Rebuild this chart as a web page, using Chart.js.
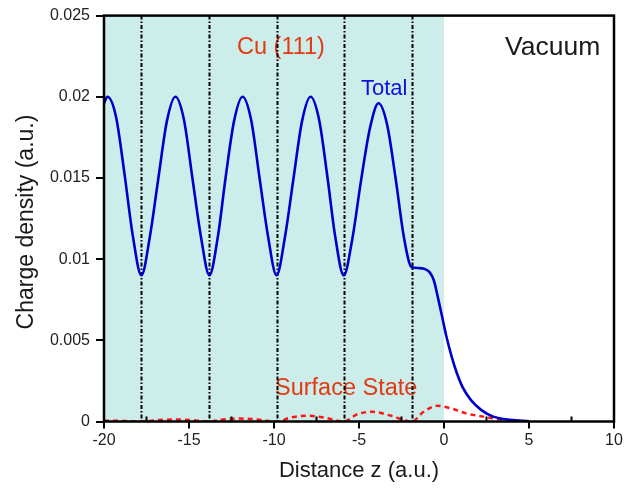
<!DOCTYPE html>
<html>
<head>
<meta charset="utf-8">
<script src="https://cdn.jsdelivr.net/npm/chart.js@4.4.1/dist/chart.umd.min.js"></script>
<style>
  html, body { margin: 0; padding: 0; background: #fff; }
  #grafico { display: block; }
</style>
</head>
<body>
<canvas id="grafico" width="639" height="488"></canvas>
<script>
// Dados (densidade de carga do Cu(111))
const totalZ = [-20, -19.8, -19.3, -18.8, -18.3, -17.8, -17.3, -16.8, -16.3, -15.8, -15.3, -14.8, -14.3, -13.8,
  -13.3, -12.85, -12.35, -11.85, -11.35, -10.85, -10.35, -9.85, -9.35, -8.85, -8.35, -7.85, -7.35, -6.85, -6.4,
  -5.9, -5.4, -4.9, -4.35, -3.85, -3.35, -2.85, -2.35, -1.9, -1.5, -1.15, -0.85, -0.6, -0.35, -0.1, 0.15, 0.45,
  0.75, 1.1, 1.6, 2.2, 2.9, 3.9, 5.0];
const totalRho = [0.0196, 0.0200, 0.0188, 0.0153, 0.0114, 0.0090, 0.0114, 0.0150, 0.0185, 0.0200, 0.0186, 0.0150, 0.0114, 0.0090,
  0.0114, 0.0150, 0.0185, 0.0200, 0.0186, 0.0150, 0.0114, 0.0090, 0.0114, 0.0150, 0.0185, 0.0200, 0.0186, 0.0150, 0.0114,
  0.0090, 0.0112, 0.0147, 0.0181, 0.0196, 0.0183, 0.0150, 0.0113, 0.0095, 0.00945, 0.0094, 0.0092, 0.0087, 0.0076, 0.0064, 0.0052, 0.0040,
  0.0030, 0.0021, 0.0013, 0.0007, 0.0003, 0.0001, 0.00002];

const surfZ = [-20, -19.8, -18.8, -17.8, -16.8, -16.0, -15.0, -13.8, -12.9, -12.0, -11.0, -9.85, -9.0, -8.1, -7.1,
  -5.9, -5.1, -4.25, -3.1, -1.9, -1.2, -0.4, 0.5, 1.3, 2.3, 3.3, 4.3, 4.9];
const surfRho = [0.00005, 0.00005, 0.00003, 0, 0.00009, 0.00012, 0.0001, 0, 0.00014, 0.00018, 0.00013, 0, 0.00025, 0.00036, 0.00025,
  0, 0.00045, 0.0006, 0.00035, 0, 0.0006, 0.00097, 0.00078, 0.0005, 0.0003, 0.00013, 0.00004, 0];

// planos atômicos (linhas tracejadas) e região do cristal
const planosZ = [-17.8, -13.8, -9.85, -5.9, -1.9];
const cristalZ = [-20, 0];

const xTicks = [-20, -15, -10, -5, 0, 5, 10];
const xMinor = [-17.5, -12.5, -7.5, -2.5, 2.5, 7.5];
const yTicks = [0, 0.005, 0.01, 0.015, 0.02, 0.025];
const yTickLabels = ['0', '0.005', '0.01', '0.015', '0.02', '0.025'];

const FONTE = '"Liberation Sans", Arial, sans-serif';

const juntar = (xs, ys) => xs.map((x, i) => ({ x: x, y: ys[i] }));

// Plugin com sombreado, textos, planos e moldura
const decoracao = {
  id: 'decoracao',
  beforeDatasetsDraw(chart) {
    const { ctx, chartArea: a, scales: { x, y } } = chart;
    ctx.save();
    // região do Cu
    ctx.fillStyle = '#ccedea';
    const x0 = x.getPixelForValue(cristalZ[0]);
    const x1 = x.getPixelForValue(cristalZ[1]);
    ctx.fillRect(x0, a.top, x1 - x0, a.bottom - a.top);

    // textos
    ctx.textBaseline = 'alphabetic';
    ctx.textAlign = 'left';
    ctx.fillStyle = '#e23a12';
    ctx.font = '23.5px ' + FONTE;
    ctx.fillText('Cu (111)', 237, 54);
    ctx.fillText('Surface State', 275, 394.5);
    ctx.fillStyle = '#1010dd';
    ctx.font = '22px ' + FONTE;
    ctx.fillText('Total', 361, 94.5);
    ctx.fillStyle = '#1a1a1a';
    ctx.font = '26.5px ' + FONTE;
    ctx.fillText('Vacuum', 505, 55);

    // planos atômicos
    ctx.strokeStyle = '#000';
    ctx.lineWidth = 2;
    ctx.setLineDash([4, 2, 1.5, 2]);
    planosZ.forEach(z => {
      const px = Math.round(x.getPixelForValue(z)) + 0.5;
      ctx.beginPath();
      ctx.moveTo(px, a.top);
      ctx.lineTo(px, a.bottom);
      ctx.stroke();
    });
    ctx.restore();
  },
  afterDraw(chart) {
    const { ctx, chartArea: a, scales: { x } } = chart;
    ctx.save();
    ctx.strokeStyle = '#000';
    ctx.lineWidth = 2.5;
    ctx.strokeRect(a.left, a.top, a.right - a.left, a.bottom - a.top);

    // marcas menores (para dentro)
    ctx.lineWidth = 2;
    xMinor.forEach(z => {
      const px = x.getPixelForValue(z);
      ctx.beginPath();
      ctx.moveTo(px, a.bottom);
      ctx.lineTo(px, a.bottom - 5);
      ctx.stroke();
    });

    // títulos dos eixos
    ctx.fillStyle = '#1a1a1a';
    ctx.font = '22px ' + FONTE;
    ctx.textAlign = 'center';
    ctx.textBaseline = 'alphabetic';
    ctx.fillText('Distance z (a.u.)', (a.left + a.right) / 2, 477);
    ctx.translate(33, 222);
    ctx.rotate(-Math.PI / 2);
    ctx.font = '23px ' + FONTE;
    ctx.fillText('Charge density (a.u.)', 0, 0);
    ctx.restore();
  }
};

new Chart(document.getElementById('grafico'), {
  type: 'line',
  data: {
    datasets: [
      {
        label: 'Total',
        data: juntar(totalZ, totalRho),
        borderColor: '#0000cc',
        borderWidth: 2.6,
        pointRadius: 0,
        cubicInterpolationMode: 'monotone',
        fill: false
      },
      {
        label: 'Surface State',
        data: juntar(surfZ, surfRho),
        borderColor: '#ff1414',
        borderWidth: 2.5,
        borderDash: [5, 4],
        pointRadius: 0,
        cubicInterpolationMode: 'monotone',
        fill: false
      }
    ]
  },
  options: {
    responsive: false,
    animation: false,
    layout: { padding: { top: 13, right: 25, left: 0, bottom: 0 } },
    plugins: { legend: { display: false }, tooltip: { enabled: false } },
    scales: {
      x: {
        type: 'linear',
        min: -20,
        max: 10,
        afterBuildTicks: s => { s.ticks = xTicks.map(v => ({ value: v })); },
        afterFit: s => { s.height = 66.5; },
        border: { display: false },
        grid: { drawOnChartArea: false, drawTicks: true, tickLength: 7, color: '#000', lineWidth: 2 },
        ticks: { color: '#222', padding: 2, maxRotation: 0, font: { family: FONTE, size: 16 } }
      },
      y: {
        type: 'linear',
        min: 0,
        max: 0.025,
        afterBuildTicks: s => { s.ticks = yTicks.map(v => ({ value: v })); },
        afterFit: s => { s.width = 104; },
        border: { display: false },
        grid: { drawOnChartArea: false, drawTicks: true, tickLength: 8, color: '#000', lineWidth: 2 },
        ticks: {
          color: '#222',
          padding: 6,
          font: { family: FONTE, size: 16 },
          callback: (v, i) => yTickLabels[i]
        }
      }
    }
  },
  plugins: [decoracao]
});
</script>
</body>
</html>
